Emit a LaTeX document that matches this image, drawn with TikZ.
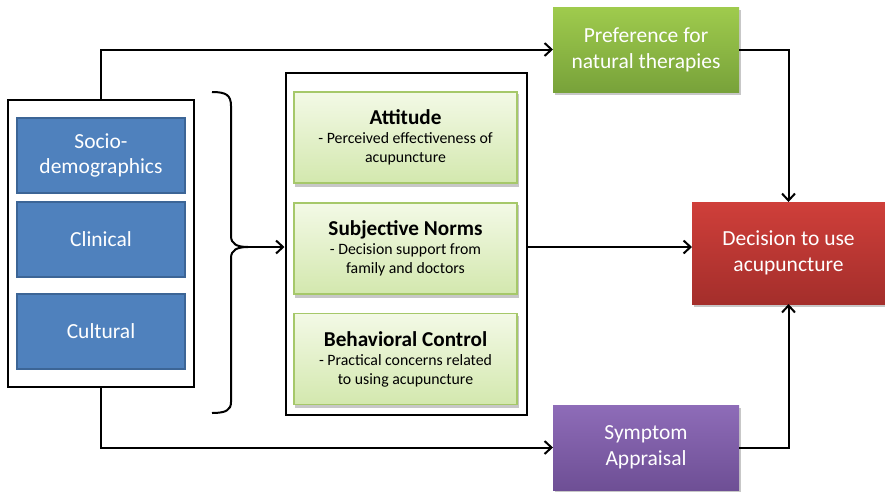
\documentclass[tikz,border=0pt]{standalone}
\usepackage{fontspec}
\setmainfont{Carlito}
\usetikzlibrary{arrows.meta}
\definecolor{blueF}{HTML}{4F81BD}
\definecolor{blueD}{HTML}{3C6596}
\definecolor{lgTop}{HTML}{F3F9E6}
\definecolor{lgBot}{HTML}{D3E8AE}
\definecolor{lgBorder}{HTML}{A6C86A}
\definecolor{prefTop}{HTML}{9FCB4D}
\definecolor{prefBot}{HTML}{78A23A}
\definecolor{decTop}{HTML}{CF3F3A}
\definecolor{decBot}{HTML}{A42E2B}
\definecolor{sympTop}{HTML}{8E6CB8}
\definecolor{sympBot}{HTML}{6E4F95}
\pgfdeclarelayer{frames}
\pgfdeclarelayer{shadows}
\pgfsetlayers{frames,shadows,main}
\tikzset{
  frame/.style={draw=black, line width=2pt, fill=white, inner sep=0pt},
  bluebox/.style={draw=blueD, line width=1.2pt, fill=blueF, text=white,
    minimum width=168pt, minimum height=75pt, align=center,
    font=\fontsize{21.5}{25}\selectfont, inner sep=0pt},
  tpbbox/.style={draw=lgBorder, line width=1.2pt, top color=lgTop, bottom color=lgBot,
    minimum width=223pt, minimum height=91pt, align=center, inner sep=0pt,
    font=\fontsize{15.8}{19}\selectfont},
  colbox/.style={line width=0pt, text=white, align=center, inner sep=0pt,
    font=\fontsize{21.5}{26}\selectfont},
  shade/.style={fill=black, opacity=0.22},
  flow/.style={line width=2pt, -{Straight Barb[length=7pt,width=13pt,line width=2pt]}},
  tline/.style={line width=2pt}
}
\newcommand{\tpbhead}{\fontsize{21.2}{22}\selectfont\bfseries}
\newcommand{\tpbbody}{\fontsize{15.8}{19}\selectfont\mdseries}
\newcommand{\boxshadow}[1]{\fill[shade] ([shift={(1.5,3)}]#1.north west) rectangle ([shift={(1.5,3)}]#1.south east);}
\begin{document}
\begin{tikzpicture}[x=1pt,y=-1pt]
\useasboundingbox (0,0) rectangle (885,491);

% background factors
\begin{pgfonlayer}{frames}
\node[frame, minimum width=186pt, minimum height=287pt] (outer) at (100.5,243.5) {};
\node[frame, minimum width=241pt, minimum height=342pt] (mid) at (406,244) {};
\end{pgfonlayer}
\node[bluebox] (socio) at (101,155.5) {Socio-\\demographics};
\node[bluebox] (clin) at (101,239.5) {Clinical};
\node[bluebox] (cult) at (101,331.5) {Cultural};

% theory of planned behaviour constructs
\node[tpbbox] (att) at (405.5,137.5) {\tpbhead Attitude\\\tpbbody - Perceived effectiveness of\\acupuncture};
\node[tpbbox] (norm) at (405.5,248.5) {\tpbhead Subjective Norms\\\tpbbody - Decision support from\\family and doctors};
\node[tpbbox] (beh) at (405.5,359) {\tpbhead Behavioral Control\\\tpbbody - Practical concerns related\\to using acupuncture};

% outcome and side factors
\node[colbox, top color=prefTop, bottom color=prefBot, minimum width=186pt, minimum height=85pt] (pref) at (646,49.5) {Preference for\\natural therapies};
\node[colbox, top color=decTop, bottom color=decBot, minimum width=193pt, minimum height=102pt] (dec) at (788.5,253) {Decision to use\\acupuncture};
\node[colbox, top color=sympTop, bottom color=sympBot, minimum width=186pt, minimum height=85pt] (symp) at (646,447.5) {Symptom\\Appraisal};

% soft shadows under the boxes
\begin{pgfonlayer}{shadows}
\boxshadow{att}
\boxshadow{norm}
\boxshadow{beh}
\boxshadow{pref}
\boxshadow{dec}
\boxshadow{symp}
\end{pgfonlayer}

% brace gathering the background factors
\coordinate (bt) at (248,247);
\draw[tline] (212,92) .. controls (226,92) and (231,95) .. (231,106) -- (231,236)
  .. controls (231,244) and (237,247) .. (bt)
  .. controls (237,247) and (231,250) .. (231,258) -- (231,402)
  .. controls (231,410) and (226,413) .. (212,413);

% connectors
\draw[flow] (bt) -- (bt -| mid.west);
\draw[flow] (outer.north) |- (pref.west);
\draw[flow] (outer.south) |- (symp.west);
\draw[flow] (mid.east |- bt) -- (bt -| dec.west);
\draw[flow] (pref.east) -| (dec.north);
\draw[flow] (symp.east) -| (dec.south);
\end{tikzpicture}
\end{document}
